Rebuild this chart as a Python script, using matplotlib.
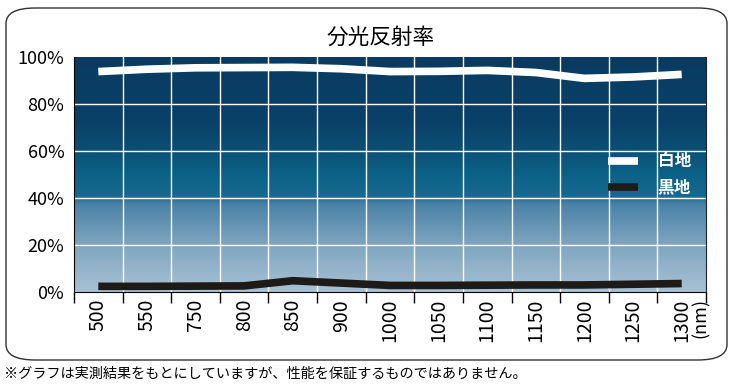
import matplotlib
matplotlib.use("Agg")
import matplotlib.pyplot as plt
import numpy as np
from matplotlib.colors import LinearSegmentedColormap
from matplotlib.patches import FancyBboxPatch

plt.rcParams['font.family'] = ['Noto Sans CJK JP', 'DejaVu Sans']

# data
wavelengths = ['500', '550', '750', '800', '850', '900', '1000', '1050',
               '1100', '1150', '1200', '1250', '1300']
white_base = [93.8, 94.8, 95.4, 95.5, 95.6, 95.0, 93.8, 93.9,
              94.3, 93.4, 90.9, 91.5, 92.6]
black_base = [2.4, 2.4, 2.5, 2.6, 4.8, 3.8, 2.8, 2.8,
              2.9, 3.0, 3.0, 3.3, 3.6]
y_ticks = [0, 20, 40, 60, 80, 100]

fig = plt.figure(figsize=(7.33, 3.87), dpi=100)

# rounded frame round the chart
frame = FancyBboxPatch((6 / 733, 1 - 360 / 387), 721 / 733, 352 / 387,
                       boxstyle="round,pad=0,rounding_size=0.04",
                       transform=fig.transFigure, facecolor='white',
                       edgecolor='#333333', linewidth=1.0, zorder=-5)
fig.add_artist(frame)

ax = fig.add_axes([74 / 733, 1 - 292 / 387, 632 / 733, 235 / 387])
ax.set_facecolor('none')
ax.set_zorder(1)

n = len(wavelengths)
x = np.arange(n) + 0.5

# background gradient (bottom -> top)
cmap = LinearSegmentedColormap.from_list('bg', [
    (0.00, '#a7c1d4'),
    (0.20, '#7fa5c0'),
    (0.37, '#4c83a8'),
    (0.41, '#17698e'),
    (0.50, '#0b6287'),
    (0.62, '#0b4d74'),
    (0.72, '#0a4168'),
    (1.00, '#093b61'),
])
grad = np.linspace(0, 1, 256).reshape(-1, 1)
ax.imshow(grad, cmap=cmap, origin='lower', aspect='auto',
          extent=[0, n, 0, 100], zorder=0)

# grid
for gx in range(1, n):
    ax.axvline(gx, color='white', lw=1.0, zorder=1)
for gy in y_ticks[1:-1]:
    ax.axhline(gy, color='white', lw=1.0, zorder=1)

ax.plot(x, white_base, color='white', lw=5.5, solid_capstyle='butt',
        zorder=3, label='白地')
ax.plot(x, black_base, color='#1e1a18', lw=5.5, solid_capstyle='butt',
        zorder=3, label='黒地')

ax.set_xlim(0, n)
ax.set_ylim(0, 100)

ax.set_xticks(range(n + 1))
ax.set_xticklabels([])
ax.set_xticks(x, minor=True)
ax.set_xticklabels(wavelengths, minor=True, rotation=90, fontsize=14)
ax.tick_params(axis='x', which='major', direction='out', length=8,
               width=1, color='black')
ax.tick_params(axis='x', which='minor', length=0, pad=5)

ax.set_yticks(y_ticks)
ax.set_yticklabels([f'{v}%' for v in y_ticks], fontsize=13)
ax.tick_params(axis='y', length=0, pad=7)

ax.spines['top'].set_visible(False)
ax.spines['left'].set_color('black')
ax.spines['bottom'].set_color('black')
ax.spines['right'].set_color('#222222')
ax.spines['right'].set_linewidth(0.8)

ax.text(n - 0.5 + 0.40, -2.5, '(nm)', rotation=90, ha='center', va='top',
        fontsize=13, transform=ax.transData, clip_on=False)

leg = ax.legend(loc='center right', bbox_to_anchor=(1.0, 0.5),
                frameon=False, fontsize=12, handlelength=1.8,
                handletextpad=1.2, labelspacing=0.5)
for t in leg.get_texts():
    t.set_color('white')
    t.set_fontweight('bold')

fig.text(381 / 733, 1 - 38 / 387, '分光反射率', ha='center', va='center',
         fontsize=15.6)
fig.text(4 / 733, 1 - 374 / 387,
         '※グラフは実測結果をもとにしていますが、性能を保証するものではありません。',
         ha='left', va='center', fontsize=10.2)

fig.savefig('out.png', dpi=100)
